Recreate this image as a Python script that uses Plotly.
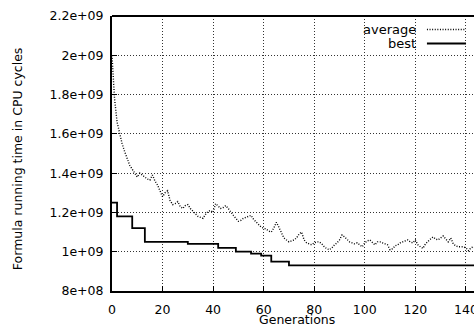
import plotly.graph_objects as go

# ---- data ----
generations_avg = list(range(0, 145))
average_e9 = [
    2.00, 1.78, 1.66, 1.60, 1.55, 1.51, 1.47, 1.44, 1.42, 1.40,
    1.38, 1.40, 1.39, 1.38, 1.37, 1.365, 1.39, 1.36, 1.34, 1.31,
    1.28, 1.30, 1.31, 1.26, 1.24, 1.245, 1.255, 1.23, 1.22, 1.235,
    1.24, 1.22, 1.205, 1.19, 1.18, 1.175, 1.17, 1.19, 1.205, 1.21,
    1.20, 1.245, 1.23, 1.22, 1.225, 1.235, 1.22, 1.20, 1.185, 1.17,
    1.155, 1.16, 1.17, 1.175, 1.18, 1.185, 1.165, 1.15, 1.135, 1.125,
    1.12, 1.115, 1.105, 1.10, 1.12, 1.15, 1.125, 1.10, 1.07, 1.06,
    1.05, 1.055, 1.06, 1.07, 1.09, 1.10, 1.06, 1.045, 1.04, 1.035,
    1.045, 1.05, 1.05, 1.04, 1.025, 1.015, 1.01, 1.02, 1.035, 1.045,
    1.06, 1.085, 1.075, 1.06, 1.05, 1.045, 1.04, 1.045, 1.035, 1.025,
    1.045, 1.055, 1.06, 1.045, 1.035, 1.05, 1.05, 1.045, 1.04, 1.035,
    1.01, 1.015, 1.03, 1.035, 1.045, 1.05, 1.055, 1.06, 1.05, 1.045,
    1.06, 1.035, 1.025, 1.017, 1.04, 1.055, 1.065, 1.075, 1.065, 1.06,
    1.07, 1.08, 1.065, 1.05, 1.07, 1.04, 1.03, 1.025, 1.025, 1.025,
    1.02, 1.005, 1.02, 1.025, 1.02,
]
average = [v * 1e9 for v in average_e9]

best_gen = [0, 2, 8, 13, 30, 42, 49, 55, 59, 63, 70, 145]
best_e9 = [1.25, 1.18, 1.12, 1.05, 1.04, 1.02, 1.0, 0.99, 0.98, 0.95, 0.93, 0.93]
best = [v * 1e9 for v in best_e9]

x_ticks = [0, 20, 40, 60, 80, 100, 120, 140]
y_ticks = [8e8, 1e9, 1.2e9, 1.4e9, 1.6e9, 1.8e9, 2e9, 2.2e9]
y_ticktext = ["8e+08", "1e+09", "1.2e+09", "1.4e+09", "1.6e+09", "1.8e+09", "2e+09", "2.2e+09"]
series_names = ["average", "best"]
x_title = "Generations"
y_title = "Formula running time in CPU cycles"

FONT = "DejaVu Sans"
AVG_DASH = "1px,1.6px"
GRID_DASH = "1px,2px"

fig = go.Figure()
fig.add_trace(go.Scatter(
    x=generations_avg, y=average, mode="lines", name=series_names[0],
    line=dict(color="black", width=1.4, dash=AVG_DASH), showlegend=False,
))
fig.add_trace(go.Scatter(
    x=best_gen, y=best, mode="lines", name=series_names[1],
    line=dict(color="black", width=1.8, shape="hv"), showlegend=False,
))

# custom legend: text on the left, line sample on the right
leg_y = [0.951, 0.900]
for i, (name, dash, w) in enumerate([(series_names[0], AVG_DASH, 1.3), (series_names[1], "solid", 1.8)]):
    fig.add_annotation(
        x=0.842, y=leg_y[i], xref="paper", yref="paper", text=name,
        showarrow=False, xanchor="right", yanchor="middle", borderpad=0,
        font=dict(family=FONT, size=13, color="black"),
    )
    fig.add_shape(
        type="line", xref="paper", yref="paper",
        x0=0.870, x1=0.978, y0=leg_y[i], y1=leg_y[i],
        line=dict(color="black", width=w, dash=dash),
    )

# axis titles
fig.add_annotation(
    x=0.512, y=-0.103, xref="paper", yref="paper", text=x_title,
    showarrow=False, xanchor="center", yanchor="middle", borderpad=0,
    font=dict(family=FONT, size=12.5, color="black"),
)
fig.add_annotation(
    x=-0.262, y=0.48, xref="paper", yref="paper", text=y_title, textangle=-90,
    showarrow=False, xanchor="center", yanchor="middle",
    font=dict(family=FONT, size=12.5, color="black"),
)

# top border
fig.add_shape(type="line", xref="paper", yref="paper", x0=0, x1=1, y0=1, y1=1,
              line=dict(color="black", width=2))

fig.update_layout(
    width=474, height=326,
    margin=dict(l=112, r=0, t=16, b=35),
    plot_bgcolor="white", paper_bgcolor="white",
    font=dict(family=FONT, size=13, color="black"),
)
fig.update_xaxes(
    range=[0, 143.2], tickvals=x_ticks, ticktext=[str(t) for t in x_ticks],
    showgrid=True, gridcolor="#333", griddash=GRID_DASH, gridwidth=1,
    showline=True, linecolor="black", linewidth=2,
    ticks="inside", ticklen=5, tickcolor="black",
    zeroline=False, automargin=False, ticklabeloverflow="allow",
    ticklabelstandoff=6,
    tickfont=dict(family=FONT, size=12.5),
)
fig.update_yaxes(
    range=[8e8, 2.2e9], tickvals=y_ticks, ticktext=y_ticktext,
    showgrid=True, gridcolor="#333", griddash=GRID_DASH, gridwidth=1,
    showline=True, linecolor="black", linewidth=2,
    ticks="inside", ticklen=5, tickcolor="black",
    zeroline=False, automargin=False, ticklabeloverflow="allow",
    ticklabelstandoff=4,
    tickfont=dict(family=FONT, size=12.5),
)

fig.write_html(
    "out.html",
    config={"displayModeBar": False},
    post_script="document.body.style.margin='0';document.body.style.overflow='hidden';",
)
